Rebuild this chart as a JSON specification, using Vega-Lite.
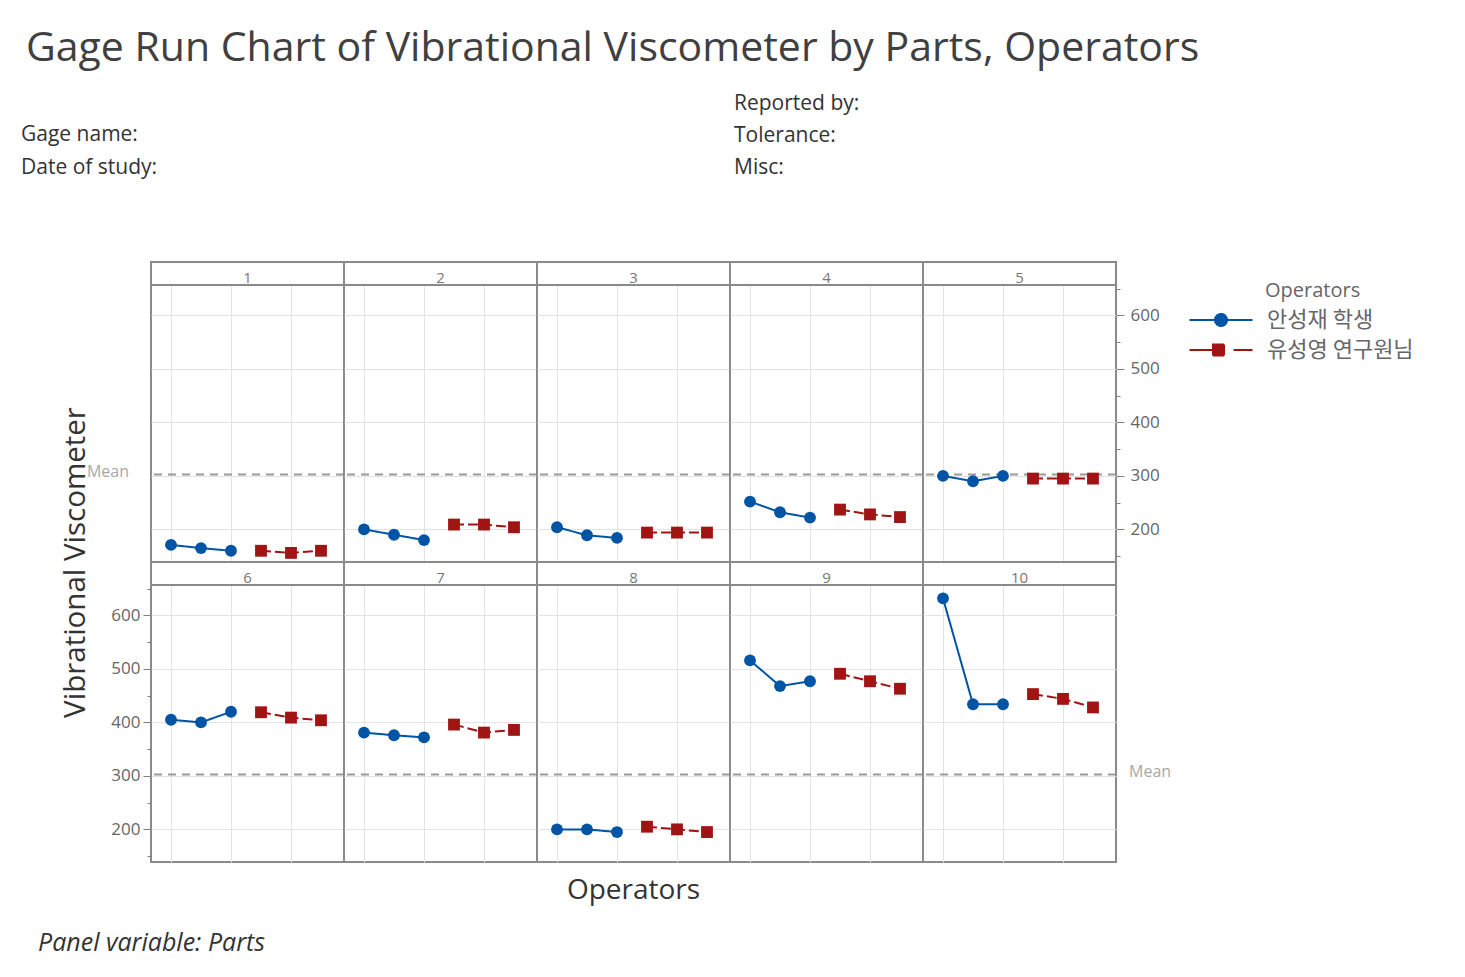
{
  "$schema": "https://vega.github.io/schema/vega-lite/v6.json",
  "padding": {"left": 20, "top": 28, "right": 10, "bottom": 10},
  "background": "white",
  "title": {"text": "Gage Run Chart of Vibrational Viscometer by Parts, Operators", "anchor": "start", "frame": "group", "dx": -125, "fontSize": 41, "fontWeight": "normal", "color": "#404040", "offset": 22},
  "data": {"values": [
    {"Part": 1, "Operator": "안성재 학생", "Obs": 1, "Value": 171},
    {"Part": 1, "Operator": "안성재 학생", "Obs": 2, "Value": 165},
    {"Part": 1, "Operator": "안성재 학생", "Obs": 3, "Value": 160},
    {"Part": 1, "Operator": "유성영 연구원님", "Obs": 4, "Value": 160},
    {"Part": 1, "Operator": "유성영 연구원님", "Obs": 5, "Value": 156},
    {"Part": 1, "Operator": "유성영 연구원님", "Obs": 6, "Value": 160},
    {"Part": 2, "Operator": "안성재 학생", "Obs": 1, "Value": 200},
    {"Part": 2, "Operator": "안성재 학생", "Obs": 2, "Value": 190},
    {"Part": 2, "Operator": "안성재 학생", "Obs": 3, "Value": 180},
    {"Part": 2, "Operator": "유성영 연구원님", "Obs": 4, "Value": 209},
    {"Part": 2, "Operator": "유성영 연구원님", "Obs": 5, "Value": 209},
    {"Part": 2, "Operator": "유성영 연구원님", "Obs": 6, "Value": 204},
    {"Part": 3, "Operator": "안성재 학생", "Obs": 1, "Value": 204},
    {"Part": 3, "Operator": "안성재 학생", "Obs": 2, "Value": 189},
    {"Part": 3, "Operator": "안성재 학생", "Obs": 3, "Value": 184},
    {"Part": 3, "Operator": "유성영 연구원님", "Obs": 4, "Value": 194},
    {"Part": 3, "Operator": "유성영 연구원님", "Obs": 5, "Value": 194},
    {"Part": 3, "Operator": "유성영 연구원님", "Obs": 6, "Value": 194},
    {"Part": 4, "Operator": "안성재 학생", "Obs": 1, "Value": 252},
    {"Part": 4, "Operator": "안성재 학생", "Obs": 2, "Value": 232},
    {"Part": 4, "Operator": "안성재 학생", "Obs": 3, "Value": 222},
    {"Part": 4, "Operator": "유성영 연구원님", "Obs": 4, "Value": 237},
    {"Part": 4, "Operator": "유성영 연구원님", "Obs": 5, "Value": 228},
    {"Part": 4, "Operator": "유성영 연구원님", "Obs": 6, "Value": 223},
    {"Part": 5, "Operator": "안성재 학생", "Obs": 1, "Value": 300},
    {"Part": 5, "Operator": "안성재 학생", "Obs": 2, "Value": 290},
    {"Part": 5, "Operator": "안성재 학생", "Obs": 3, "Value": 300},
    {"Part": 5, "Operator": "유성영 연구원님", "Obs": 4, "Value": 295},
    {"Part": 5, "Operator": "유성영 연구원님", "Obs": 5, "Value": 295},
    {"Part": 5, "Operator": "유성영 연구원님", "Obs": 6, "Value": 295},
    {"Part": 6, "Operator": "안성재 학생", "Obs": 1, "Value": 405},
    {"Part": 6, "Operator": "안성재 학생", "Obs": 2, "Value": 400},
    {"Part": 6, "Operator": "안성재 학생", "Obs": 3, "Value": 420},
    {"Part": 6, "Operator": "유성영 연구원님", "Obs": 4, "Value": 419},
    {"Part": 6, "Operator": "유성영 연구원님", "Obs": 5, "Value": 409},
    {"Part": 6, "Operator": "유성영 연구원님", "Obs": 6, "Value": 404},
    {"Part": 7, "Operator": "안성재 학생", "Obs": 1, "Value": 381},
    {"Part": 7, "Operator": "안성재 학생", "Obs": 2, "Value": 376},
    {"Part": 7, "Operator": "안성재 학생", "Obs": 3, "Value": 372},
    {"Part": 7, "Operator": "유성영 연구원님", "Obs": 4, "Value": 396},
    {"Part": 7, "Operator": "유성영 연구원님", "Obs": 5, "Value": 381},
    {"Part": 7, "Operator": "유성영 연구원님", "Obs": 6, "Value": 386},
    {"Part": 8, "Operator": "안성재 학생", "Obs": 1, "Value": 200},
    {"Part": 8, "Operator": "안성재 학생", "Obs": 2, "Value": 200},
    {"Part": 8, "Operator": "안성재 학생", "Obs": 3, "Value": 195},
    {"Part": 8, "Operator": "유성영 연구원님", "Obs": 4, "Value": 205},
    {"Part": 8, "Operator": "유성영 연구원님", "Obs": 5, "Value": 200},
    {"Part": 8, "Operator": "유성영 연구원님", "Obs": 6, "Value": 195},
    {"Part": 9, "Operator": "안성재 학생", "Obs": 1, "Value": 516},
    {"Part": 9, "Operator": "안성재 학생", "Obs": 2, "Value": 468},
    {"Part": 9, "Operator": "안성재 학생", "Obs": 3, "Value": 477},
    {"Part": 9, "Operator": "유성영 연구원님", "Obs": 4, "Value": 491},
    {"Part": 9, "Operator": "유성영 연구원님", "Obs": 5, "Value": 477},
    {"Part": 9, "Operator": "유성영 연구원님", "Obs": 6, "Value": 463},
    {"Part": 10, "Operator": "안성재 학생", "Obs": 1, "Value": 632},
    {"Part": 10, "Operator": "안성재 학생", "Obs": 2, "Value": 434},
    {"Part": 10, "Operator": "안성재 학생", "Obs": 3, "Value": 434},
    {"Part": 10, "Operator": "유성영 연구원님", "Obs": 4, "Value": 453},
    {"Part": 10, "Operator": "유성영 연구원님", "Obs": 5, "Value": 444},
    {"Part": 10, "Operator": "유성영 연구원님", "Obs": 6, "Value": 428}
  ]},
  "transform": [{"joinaggregate": [{"op": "mean", "field": "Value", "as": "Mean"}]}],
  "columns": 5,
  "spacing": 0,
  "bounds": "flush",
  "resolve": {"legend": {"color": "independent"}},
  "concat": [
    {
      "width": 193, "height": 300,
      "transform": [{"filter": "datum.Part == 1"}],
      "resolve": {"axis": {"x": "independent", "y": "independent"}},
      "title": {"text": ["Gage name:", "Date of study:"], "anchor": "start", "frame": "group", "dx": -130, "offset": 83, "fontSize": 21, "fontWeight": "normal", "color": "#333333", "lineHeight": 33},
      "layer": [
        {"transform": [{"aggregate": [{"op": "count", "as": "n"}], "groupby": ["Mean"]}], "mark": {"type": "rule", "strokeDash": [8, 6], "color": "#9a9a9a", "strokeWidth": 2}, "encoding": {"y": {"field": "Mean", "type": "quantitative", "axis": null}}},
        {"mark": {"type": "line", "strokeWidth": 2}, "encoding": {
          "x": {"field": "Obs", "type": "quantitative", "scale": {"domain": [0.333, 6.767], "nice": false, "zero": false}, "axis": {"values": [1, 3, 5], "grid": true, "labelFontSize": 1, "labelOpacity": 0, "labelPadding": 0, "tickSize": 1, "tickOpacity": 0, "domain": false, "title": null}},
          "y": {"field": "Value", "type": "quantitative", "scale": {"domain": [139, 700], "nice": false, "zero": false}, "axis": {"values": [200, 300, 400, 500, 600], "grid": true, "labelFontSize": 1, "labelOpacity": 0, "labelPadding": 0, "tickSize": 1, "tickOpacity": 0, "domain": false, "title": null}},
          "color": {"field": "Operator", "type": "nominal", "scale": {"domain": ["안성재 학생", "유성영 연구원님"], "range": ["#0054A6", "#A01414"]}, "legend": null},
          "strokeDash": {"field": "Operator", "type": "nominal", "scale": {"domain": ["안성재 학생", "유성영 연구원님"], "range": [[1, 0], [10, 4]]}, "legend": null}
        }},
        {"mark": {"type": "point", "filled": true, "opacity": 1, "size": 140}, "encoding": {"x": {"field": "Obs", "type": "quantitative", "axis": null}, "y": {"field": "Value", "type": "quantitative", "axis": null}, "color": {"field": "Operator", "type": "nominal", "legend": null}, "shape": {"field": "Operator", "type": "nominal", "scale": {"domain": ["안성재 학생", "유성영 연구원님"], "range": ["circle", "square"]}, "legend": null}}},
        {"transform": [{"aggregate": [{"op": "count", "as": "n"}], "groupby": ["Part"]}], "mark": {"type": "rect", "fill": "white", "stroke": "#8a8a8a", "strokeWidth": 2}, "encoding": {"x": {"datum": 0.333, "axis": null}, "x2": {"datum": 6.767}, "y": {"datum": 657, "axis": null}, "y2": {"datum": 700}}},
        {"transform": [{"aggregate": [{"op": "count", "as": "n"}], "groupby": ["Part"]}], "mark": {"type": "text", "fontSize": 15, "color": "#777777", "baseline": "middle"}, "encoding": {"x": {"datum": 3.55, "axis": null}, "y": {"datum": 670, "axis": null}, "text": {"field": "Part", "type": "nominal"}}},
        {"transform": [{"aggregate": [{"op": "count", "as": "n"}], "groupby": ["Mean"]}], "mark": {"type": "text", "text": "Mean", "align": "right", "baseline": "middle", "fontSize": 16, "color": "#a8a8a8", "dx": -22, "dy": -3}, "encoding": {"x": {"datum": 0.333, "axis": null}, "y": {"field": "Mean", "type": "quantitative", "axis": null}}}
      ]
    },
    {
      "width": 193, "height": 300,
      "transform": [{"filter": "datum.Part == 2"}],
      "resolve": {"axis": {"x": "independent", "y": "independent"}},
      "layer": [
        {"transform": [{"aggregate": [{"op": "count", "as": "n"}], "groupby": ["Mean"]}], "mark": {"type": "rule", "strokeDash": [8, 6], "color": "#9a9a9a", "strokeWidth": 2}, "encoding": {"y": {"field": "Mean", "type": "quantitative", "axis": null}}},
        {"mark": {"type": "line", "strokeWidth": 2}, "encoding": {
          "x": {"field": "Obs", "type": "quantitative", "scale": {"domain": [0.333, 6.767], "nice": false, "zero": false}, "axis": {"values": [1, 3, 5], "grid": true, "labelFontSize": 1, "labelOpacity": 0, "labelPadding": 0, "tickSize": 1, "tickOpacity": 0, "domain": false, "title": null}},
          "y": {"field": "Value", "type": "quantitative", "scale": {"domain": [139, 700], "nice": false, "zero": false}, "axis": {"values": [200, 300, 400, 500, 600], "grid": true, "labelFontSize": 1, "labelOpacity": 0, "labelPadding": 0, "tickSize": 1, "tickOpacity": 0, "domain": false, "title": null}},
          "color": {"field": "Operator", "type": "nominal", "legend": null},
          "strokeDash": {"field": "Operator", "type": "nominal", "legend": null}
        }},
        {"mark": {"type": "point", "filled": true, "opacity": 1, "size": 140}, "encoding": {"x": {"field": "Obs", "type": "quantitative", "axis": null}, "y": {"field": "Value", "type": "quantitative", "axis": null}, "color": {"field": "Operator", "type": "nominal", "legend": null}, "shape": {"field": "Operator", "type": "nominal", "legend": null}}},
        {"transform": [{"aggregate": [{"op": "count", "as": "n"}], "groupby": ["Part"]}], "mark": {"type": "rect", "fill": "white", "stroke": "#8a8a8a", "strokeWidth": 2}, "encoding": {"x": {"datum": 0.333, "axis": null}, "x2": {"datum": 6.767}, "y": {"datum": 657, "axis": null}, "y2": {"datum": 700}}},
        {"transform": [{"aggregate": [{"op": "count", "as": "n"}], "groupby": ["Part"]}], "mark": {"type": "text", "fontSize": 15, "color": "#777777", "baseline": "middle"}, "encoding": {"x": {"datum": 3.55, "axis": null}, "y": {"datum": 670, "axis": null}, "text": {"field": "Part", "type": "nominal"}}}
      ]
    },
    {
      "width": 193, "height": 300,
      "transform": [{"filter": "datum.Part == 3"}],
      "resolve": {"axis": {"x": "independent", "y": "independent"}},
      "layer": [
        {"transform": [{"aggregate": [{"op": "count", "as": "n"}], "groupby": ["Mean"]}], "mark": {"type": "rule", "strokeDash": [8, 6], "color": "#9a9a9a", "strokeWidth": 2}, "encoding": {"y": {"field": "Mean", "type": "quantitative", "axis": null}}},
        {"mark": {"type": "line", "strokeWidth": 2}, "encoding": {
          "x": {"field": "Obs", "type": "quantitative", "scale": {"domain": [0.333, 6.767], "nice": false, "zero": false}, "axis": {"values": [1, 3, 5], "grid": true, "labelFontSize": 1, "labelOpacity": 0, "labelPadding": 0, "tickSize": 1, "tickOpacity": 0, "domain": false, "title": null}},
          "y": {"field": "Value", "type": "quantitative", "scale": {"domain": [139, 700], "nice": false, "zero": false}, "axis": {"values": [200, 300, 400, 500, 600], "grid": true, "labelFontSize": 1, "labelOpacity": 0, "labelPadding": 0, "tickSize": 1, "tickOpacity": 0, "domain": false, "title": null}},
          "color": {"field": "Operator", "type": "nominal", "legend": null},
          "strokeDash": {"field": "Operator", "type": "nominal", "legend": null}
        }},
        {"mark": {"type": "point", "filled": true, "opacity": 1, "size": 140}, "encoding": {"x": {"field": "Obs", "type": "quantitative", "axis": null}, "y": {"field": "Value", "type": "quantitative", "axis": null}, "color": {"field": "Operator", "type": "nominal", "legend": null}, "shape": {"field": "Operator", "type": "nominal", "legend": null}}},
        {"transform": [{"aggregate": [{"op": "count", "as": "n"}], "groupby": ["Part"]}], "mark": {"type": "rect", "fill": "white", "stroke": "#8a8a8a", "strokeWidth": 2}, "encoding": {"x": {"datum": 0.333, "axis": null}, "x2": {"datum": 6.767}, "y": {"datum": 657, "axis": null}, "y2": {"datum": 700}}},
        {"transform": [{"aggregate": [{"op": "count", "as": "n"}], "groupby": ["Part"]}], "mark": {"type": "text", "fontSize": 15, "color": "#777777", "baseline": "middle"}, "encoding": {"x": {"datum": 3.55, "axis": null}, "y": {"datum": 670, "axis": null}, "text": {"field": "Part", "type": "nominal"}}}
      ]
    },
    {
      "width": 193, "height": 300,
      "transform": [{"filter": "datum.Part == 4"}],
      "resolve": {"axis": {"x": "independent", "y": "independent"}},
      "title": {"text": ["Reported by:", "Tolerance:", "Misc:"], "anchor": "start", "frame": "group", "dx": 4, "offset": 83, "fontSize": 21, "fontWeight": "normal", "color": "#333333", "lineHeight": 32},
      "layer": [
        {"transform": [{"aggregate": [{"op": "count", "as": "n"}], "groupby": ["Mean"]}], "mark": {"type": "rule", "strokeDash": [8, 6], "color": "#9a9a9a", "strokeWidth": 2}, "encoding": {"y": {"field": "Mean", "type": "quantitative", "axis": null}}},
        {"mark": {"type": "line", "strokeWidth": 2}, "encoding": {
          "x": {"field": "Obs", "type": "quantitative", "scale": {"domain": [0.333, 6.767], "nice": false, "zero": false}, "axis": {"values": [1, 3, 5], "grid": true, "labelFontSize": 1, "labelOpacity": 0, "labelPadding": 0, "tickSize": 1, "tickOpacity": 0, "domain": false, "title": null}},
          "y": {"field": "Value", "type": "quantitative", "scale": {"domain": [139, 700], "nice": false, "zero": false}, "axis": {"values": [200, 300, 400, 500, 600], "grid": true, "labelFontSize": 1, "labelOpacity": 0, "labelPadding": 0, "tickSize": 1, "tickOpacity": 0, "domain": false, "title": null}},
          "color": {"field": "Operator", "type": "nominal", "legend": null},
          "strokeDash": {"field": "Operator", "type": "nominal", "legend": null}
        }},
        {"mark": {"type": "point", "filled": true, "opacity": 1, "size": 140}, "encoding": {"x": {"field": "Obs", "type": "quantitative", "axis": null}, "y": {"field": "Value", "type": "quantitative", "axis": null}, "color": {"field": "Operator", "type": "nominal", "legend": null}, "shape": {"field": "Operator", "type": "nominal", "legend": null}}},
        {"transform": [{"aggregate": [{"op": "count", "as": "n"}], "groupby": ["Part"]}], "mark": {"type": "rect", "fill": "white", "stroke": "#8a8a8a", "strokeWidth": 2}, "encoding": {"x": {"datum": 0.333, "axis": null}, "x2": {"datum": 6.767}, "y": {"datum": 657, "axis": null}, "y2": {"datum": 700}}},
        {"transform": [{"aggregate": [{"op": "count", "as": "n"}], "groupby": ["Part"]}], "mark": {"type": "text", "fontSize": 15, "color": "#777777", "baseline": "middle"}, "encoding": {"x": {"datum": 3.55, "axis": null}, "y": {"datum": 670, "axis": null}, "text": {"field": "Part", "type": "nominal"}}}
      ]
    },
    {
      "width": 193, "height": 300,
      "transform": [{"filter": "datum.Part == 5"}],
      "resolve": {"axis": {"x": "independent", "y": "independent"}},
      "layer": [
        {"transform": [{"aggregate": [{"op": "count", "as": "n"}], "groupby": ["Mean"]}], "mark": {"type": "rule", "strokeDash": [8, 6], "color": "#9a9a9a", "strokeWidth": 2}, "encoding": {"y": {"field": "Mean", "type": "quantitative", "axis": {"orient": "right", "title": null, "values": [150, 250, 350, 450, 550, 650], "labels": false, "grid": false, "tickSize": 4, "domain": false}}}},
        {"mark": {"type": "line", "strokeWidth": 2}, "encoding": {
          "x": {"field": "Obs", "type": "quantitative", "scale": {"domain": [0.333, 6.767], "nice": false, "zero": false}, "axis": {"values": [1, 3, 5], "grid": true, "labelFontSize": 1, "labelOpacity": 0, "labelPadding": 0, "tickSize": 1, "tickOpacity": 0, "domain": false, "title": null}},
          "y": {"field": "Value", "type": "quantitative", "scale": {"domain": [139, 700], "nice": false, "zero": false},
            "axis": {"orient": "right", "title": null, "values": [200, 300, 400, 500, 600], "grid": true, "tickSize": 8, "labelFontSize": 17, "labelPadding": 6, "labelColor": "#666666", "domain": false}},
          "color": {"field": "Operator", "type": "nominal",
            "legend": {"title": "Operators", "orient": "right", "offset": 31, "padding": 19, "titleFont": "Open Sans", "titleFontSize": 20, "titleFontWeight": "normal", "titleColor": "#666666", "labelFont": "Noto Sans CJK KR", "labelFontSize": 22, "labelColor": "#666666", "symbolSize": 400, "labelOffset": 35, "rowPadding": 8, "titlePadding": 8,
              "encode": {
                "symbols": {"update": {
                  "shape": {"signal": "datum.value === '안성재 학생' ? 'M-3.15,0H3.15M0.6,0A0.6,0.6,0,1,1,-0.6,0A0.6,0.6,0,1,1,0.6,0Z' : 'M-3.15,0H-0.8M-0.8,-0.55H0.3V0.55H-0.8ZM1.25,0H3.15'"},
                  "size": {"value": 400},
                  "fill": {"scale": "color", "field": "value"},
                  "stroke": {"scale": "color", "field": "value"},
                  "strokeWidth": {"value": 2},
                  "strokeDash": {"value": [1, 0]},
                  "fillOpacity": {"value": 1},
                  "opacity": {"value": 1}
                }},
                "title": {"update": {"dx": {"value": 55}}}
              }}},
          "strokeDash": {"field": "Operator", "type": "nominal", "legend": null}
        }},
        {"mark": {"type": "point", "filled": true, "opacity": 1, "size": 140}, "encoding": {"x": {"field": "Obs", "type": "quantitative", "axis": null}, "y": {"field": "Value", "type": "quantitative", "axis": null}, "color": {"field": "Operator", "type": "nominal"}, "shape": {"field": "Operator", "type": "nominal", "legend": null}}},
        {"transform": [{"aggregate": [{"op": "count", "as": "n"}], "groupby": ["Part"]}], "mark": {"type": "rect", "fill": "white", "stroke": "#8a8a8a", "strokeWidth": 2}, "encoding": {"x": {"datum": 0.333, "axis": null}, "x2": {"datum": 6.767}, "y": {"datum": 657, "axis": null}, "y2": {"datum": 700}}},
        {"transform": [{"aggregate": [{"op": "count", "as": "n"}], "groupby": ["Part"]}], "mark": {"type": "text", "fontSize": 15, "color": "#777777", "baseline": "middle"}, "encoding": {"x": {"datum": 3.55, "axis": null}, "y": {"datum": 670, "axis": null}, "text": {"field": "Part", "type": "nominal"}}}
      ]
    },
    {
      "width": 193, "height": 300,
      "transform": [{"filter": "datum.Part == 6"}],
      "resolve": {"axis": {"x": "independent", "y": "independent"}},
      "title": {"text": "Panel variable: Parts", "orient": "bottom", "anchor": "start", "frame": "group", "dx": -113, "offset": 67, "fontSize": 25, "fontStyle": "italic", "fontWeight": "normal", "color": "#333333"},
      "layer": [
        {"transform": [{"aggregate": [{"op": "count", "as": "n"}], "groupby": ["Mean"]}], "mark": {"type": "rule", "strokeDash": [8, 6], "color": "#9a9a9a", "strokeWidth": 2}, "encoding": {"y": {"field": "Mean", "type": "quantitative", "axis": {"orient": "left", "title": null, "values": [150, 250, 350, 450, 550, 650], "labels": false, "grid": false, "tickSize": 4, "domain": false}}}},
        {"mark": {"type": "line", "strokeWidth": 2}, "encoding": {
          "x": {"field": "Obs", "type": "quantitative", "scale": {"domain": [0.333, 6.767], "nice": false, "zero": false}, "axis": {"values": [1, 3, 5], "grid": true, "labelFontSize": 1, "labelOpacity": 0, "labelPadding": 0, "tickSize": 1, "tickOpacity": 0, "domain": false, "title": null}},
          "y": {"field": "Value", "type": "quantitative", "scale": {"domain": [139, 700], "nice": false, "zero": false},
            "axis": {"orient": "left", "title": "Vibrational Viscometer", "titleY": 0, "titleFontSize": 29.5, "titleFontWeight": "normal", "titleColor": "#333333", "titlePadding": 20, "values": [200, 300, 400, 500, 600], "grid": true, "tickSize": 8, "labelFontSize": 17, "labelPadding": 3, "labelColor": "#666666", "domain": false}},
          "color": {"field": "Operator", "type": "nominal", "legend": null},
          "strokeDash": {"field": "Operator", "type": "nominal", "legend": null}
        }},
        {"mark": {"type": "point", "filled": true, "opacity": 1, "size": 140}, "encoding": {"x": {"field": "Obs", "type": "quantitative", "axis": null}, "y": {"field": "Value", "type": "quantitative", "axis": null}, "color": {"field": "Operator", "type": "nominal", "legend": null}, "shape": {"field": "Operator", "type": "nominal", "legend": null}}},
        {"transform": [{"aggregate": [{"op": "count", "as": "n"}], "groupby": ["Part"]}], "mark": {"type": "rect", "fill": "white", "stroke": "#8a8a8a", "strokeWidth": 2}, "encoding": {"x": {"datum": 0.333, "axis": null}, "x2": {"datum": 6.767}, "y": {"datum": 657, "axis": null}, "y2": {"datum": 700}}},
        {"transform": [{"aggregate": [{"op": "count", "as": "n"}], "groupby": ["Part"]}], "mark": {"type": "text", "fontSize": 15, "color": "#777777", "baseline": "middle"}, "encoding": {"x": {"datum": 3.55, "axis": null}, "y": {"datum": 670, "axis": null}, "text": {"field": "Part", "type": "nominal"}}}
      ]
    },
    {
      "width": 193, "height": 300,
      "transform": [{"filter": "datum.Part == 7"}],
      "resolve": {"axis": {"x": "independent", "y": "independent"}},
      "layer": [
        {"transform": [{"aggregate": [{"op": "count", "as": "n"}], "groupby": ["Mean"]}], "mark": {"type": "rule", "strokeDash": [8, 6], "color": "#9a9a9a", "strokeWidth": 2}, "encoding": {"y": {"field": "Mean", "type": "quantitative", "axis": null}}},
        {"mark": {"type": "line", "strokeWidth": 2}, "encoding": {
          "x": {"field": "Obs", "type": "quantitative", "scale": {"domain": [0.333, 6.767], "nice": false, "zero": false}, "axis": {"values": [1, 3, 5], "grid": true, "labelFontSize": 1, "labelOpacity": 0, "labelPadding": 0, "tickSize": 1, "tickOpacity": 0, "domain": false, "title": null}},
          "y": {"field": "Value", "type": "quantitative", "scale": {"domain": [139, 700], "nice": false, "zero": false}, "axis": {"values": [200, 300, 400, 500, 600], "grid": true, "labelFontSize": 1, "labelOpacity": 0, "labelPadding": 0, "tickSize": 1, "tickOpacity": 0, "domain": false, "title": null}},
          "color": {"field": "Operator", "type": "nominal", "legend": null},
          "strokeDash": {"field": "Operator", "type": "nominal", "legend": null}
        }},
        {"mark": {"type": "point", "filled": true, "opacity": 1, "size": 140}, "encoding": {"x": {"field": "Obs", "type": "quantitative", "axis": null}, "y": {"field": "Value", "type": "quantitative", "axis": null}, "color": {"field": "Operator", "type": "nominal", "legend": null}, "shape": {"field": "Operator", "type": "nominal", "legend": null}}},
        {"transform": [{"aggregate": [{"op": "count", "as": "n"}], "groupby": ["Part"]}], "mark": {"type": "rect", "fill": "white", "stroke": "#8a8a8a", "strokeWidth": 2}, "encoding": {"x": {"datum": 0.333, "axis": null}, "x2": {"datum": 6.767}, "y": {"datum": 657, "axis": null}, "y2": {"datum": 700}}},
        {"transform": [{"aggregate": [{"op": "count", "as": "n"}], "groupby": ["Part"]}], "mark": {"type": "text", "fontSize": 15, "color": "#777777", "baseline": "middle"}, "encoding": {"x": {"datum": 3.55, "axis": null}, "y": {"datum": 670, "axis": null}, "text": {"field": "Part", "type": "nominal"}}}
      ]
    },
    {
      "width": 193, "height": 300,
      "transform": [{"filter": "datum.Part == 8"}],
      "resolve": {"axis": {"x": "independent", "y": "independent"}},
      "title": {"text": "Operators", "orient": "bottom", "anchor": "middle", "frame": "group", "offset": 13, "fontSize": 28, "fontWeight": "normal", "color": "#333333"},
      "layer": [
        {"transform": [{"aggregate": [{"op": "count", "as": "n"}], "groupby": ["Mean"]}], "mark": {"type": "rule", "strokeDash": [8, 6], "color": "#9a9a9a", "strokeWidth": 2}, "encoding": {"y": {"field": "Mean", "type": "quantitative", "axis": null}}},
        {"mark": {"type": "line", "strokeWidth": 2}, "encoding": {
          "x": {"field": "Obs", "type": "quantitative", "scale": {"domain": [0.333, 6.767], "nice": false, "zero": false}, "axis": {"values": [1, 3, 5], "grid": true, "labelFontSize": 1, "labelOpacity": 0, "labelPadding": 0, "tickSize": 1, "tickOpacity": 0, "domain": false, "title": null}},
          "y": {"field": "Value", "type": "quantitative", "scale": {"domain": [139, 700], "nice": false, "zero": false}, "axis": {"values": [200, 300, 400, 500, 600], "grid": true, "labelFontSize": 1, "labelOpacity": 0, "labelPadding": 0, "tickSize": 1, "tickOpacity": 0, "domain": false, "title": null}},
          "color": {"field": "Operator", "type": "nominal", "legend": null},
          "strokeDash": {"field": "Operator", "type": "nominal", "legend": null}
        }},
        {"mark": {"type": "point", "filled": true, "opacity": 1, "size": 140}, "encoding": {"x": {"field": "Obs", "type": "quantitative", "axis": null}, "y": {"field": "Value", "type": "quantitative", "axis": null}, "color": {"field": "Operator", "type": "nominal", "legend": null}, "shape": {"field": "Operator", "type": "nominal", "legend": null}}},
        {"transform": [{"aggregate": [{"op": "count", "as": "n"}], "groupby": ["Part"]}], "mark": {"type": "rect", "fill": "white", "stroke": "#8a8a8a", "strokeWidth": 2}, "encoding": {"x": {"datum": 0.333, "axis": null}, "x2": {"datum": 6.767}, "y": {"datum": 657, "axis": null}, "y2": {"datum": 700}}},
        {"transform": [{"aggregate": [{"op": "count", "as": "n"}], "groupby": ["Part"]}], "mark": {"type": "text", "fontSize": 15, "color": "#777777", "baseline": "middle"}, "encoding": {"x": {"datum": 3.55, "axis": null}, "y": {"datum": 670, "axis": null}, "text": {"field": "Part", "type": "nominal"}}}
      ]
    },
    {
      "width": 193, "height": 300,
      "transform": [{"filter": "datum.Part == 9"}],
      "resolve": {"axis": {"x": "independent", "y": "independent"}},
      "layer": [
        {"transform": [{"aggregate": [{"op": "count", "as": "n"}], "groupby": ["Mean"]}], "mark": {"type": "rule", "strokeDash": [8, 6], "color": "#9a9a9a", "strokeWidth": 2}, "encoding": {"y": {"field": "Mean", "type": "quantitative", "axis": null}}},
        {"mark": {"type": "line", "strokeWidth": 2}, "encoding": {
          "x": {"field": "Obs", "type": "quantitative", "scale": {"domain": [0.333, 6.767], "nice": false, "zero": false}, "axis": {"values": [1, 3, 5], "grid": true, "labelFontSize": 1, "labelOpacity": 0, "labelPadding": 0, "tickSize": 1, "tickOpacity": 0, "domain": false, "title": null}},
          "y": {"field": "Value", "type": "quantitative", "scale": {"domain": [139, 700], "nice": false, "zero": false}, "axis": {"values": [200, 300, 400, 500, 600], "grid": true, "labelFontSize": 1, "labelOpacity": 0, "labelPadding": 0, "tickSize": 1, "tickOpacity": 0, "domain": false, "title": null}},
          "color": {"field": "Operator", "type": "nominal", "legend": null},
          "strokeDash": {"field": "Operator", "type": "nominal", "legend": null}
        }},
        {"mark": {"type": "point", "filled": true, "opacity": 1, "size": 140}, "encoding": {"x": {"field": "Obs", "type": "quantitative", "axis": null}, "y": {"field": "Value", "type": "quantitative", "axis": null}, "color": {"field": "Operator", "type": "nominal", "legend": null}, "shape": {"field": "Operator", "type": "nominal", "legend": null}}},
        {"transform": [{"aggregate": [{"op": "count", "as": "n"}], "groupby": ["Part"]}], "mark": {"type": "rect", "fill": "white", "stroke": "#8a8a8a", "strokeWidth": 2}, "encoding": {"x": {"datum": 0.333, "axis": null}, "x2": {"datum": 6.767}, "y": {"datum": 657, "axis": null}, "y2": {"datum": 700}}},
        {"transform": [{"aggregate": [{"op": "count", "as": "n"}], "groupby": ["Part"]}], "mark": {"type": "text", "fontSize": 15, "color": "#777777", "baseline": "middle"}, "encoding": {"x": {"datum": 3.55, "axis": null}, "y": {"datum": 670, "axis": null}, "text": {"field": "Part", "type": "nominal"}}}
      ]
    },
    {
      "width": 193, "height": 300,
      "transform": [{"filter": "datum.Part == 10"}],
      "resolve": {"axis": {"x": "independent", "y": "independent"}},
      "layer": [
        {"transform": [{"aggregate": [{"op": "count", "as": "n"}], "groupby": ["Mean"]}], "mark": {"type": "rule", "strokeDash": [8, 6], "color": "#9a9a9a", "strokeWidth": 2}, "encoding": {"y": {"field": "Mean", "type": "quantitative", "axis": null}}},
        {"mark": {"type": "line", "strokeWidth": 2}, "encoding": {
          "x": {"field": "Obs", "type": "quantitative", "scale": {"domain": [0.333, 6.767], "nice": false, "zero": false}, "axis": {"values": [1, 3, 5], "grid": true, "labelFontSize": 1, "labelOpacity": 0, "labelPadding": 0, "tickSize": 1, "tickOpacity": 0, "domain": false, "title": null}},
          "y": {"field": "Value", "type": "quantitative", "scale": {"domain": [139, 700], "nice": false, "zero": false}, "axis": {"values": [200, 300, 400, 500, 600], "grid": true, "labelFontSize": 1, "labelOpacity": 0, "labelPadding": 0, "tickSize": 1, "tickOpacity": 0, "domain": false, "title": null}},
          "color": {"field": "Operator", "type": "nominal", "legend": null},
          "strokeDash": {"field": "Operator", "type": "nominal", "legend": null}
        }},
        {"mark": {"type": "point", "filled": true, "opacity": 1, "size": 140}, "encoding": {"x": {"field": "Obs", "type": "quantitative", "axis": null}, "y": {"field": "Value", "type": "quantitative", "axis": null}, "color": {"field": "Operator", "type": "nominal", "legend": null}, "shape": {"field": "Operator", "type": "nominal", "legend": null}}},
        {"transform": [{"aggregate": [{"op": "count", "as": "n"}], "groupby": ["Part"]}], "mark": {"type": "rect", "fill": "white", "stroke": "#8a8a8a", "strokeWidth": 2}, "encoding": {"x": {"datum": 0.333, "axis": null}, "x2": {"datum": 6.767}, "y": {"datum": 657, "axis": null}, "y2": {"datum": 700}}},
        {"transform": [{"aggregate": [{"op": "count", "as": "n"}], "groupby": ["Part"]}], "mark": {"type": "text", "fontSize": 15, "color": "#777777", "baseline": "middle"}, "encoding": {"x": {"datum": 3.55, "axis": null}, "y": {"datum": 670, "axis": null}, "text": {"field": "Part", "type": "nominal"}}},
        {"transform": [{"aggregate": [{"op": "count", "as": "n"}], "groupby": ["Mean"]}], "mark": {"type": "text", "text": "Mean", "align": "left", "baseline": "middle", "fontSize": 16, "color": "#a8a8a8", "dx": 13, "dy": -3}, "encoding": {"x": {"datum": 6.767, "axis": null}, "y": {"field": "Mean", "type": "quantitative", "axis": null}}}
      ]
    }
  ],
  "config": {
    "font": "Open Sans",
    "view": {"stroke": "#8a8a8a", "strokeWidth": 2},
    "axis": {"gridColor": "#e3e3e3", "gridWidth": 1, "labelColor": "#666666", "tickColor": "#808080", "domain": false, "labelFont": "Open Sans"}
  }
}
